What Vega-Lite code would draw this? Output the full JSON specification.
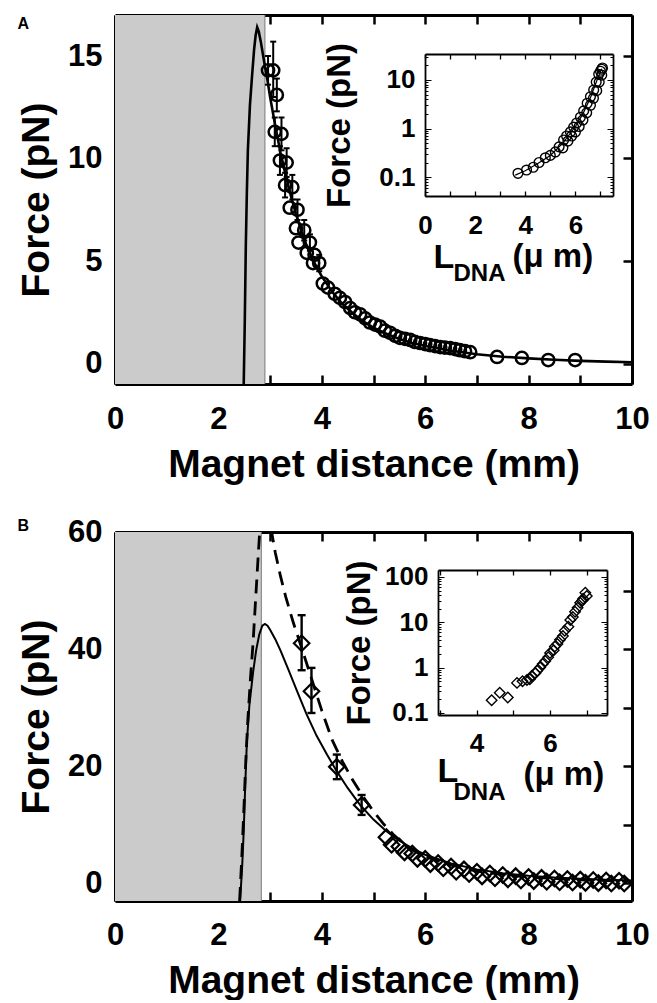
{
"$schema": "https://vega.github.io/schema/vega-lite/v6.json",
"background": "white",
"padding": {"left": 17, "top": 13, "right": 5, "bottom": 0},
"config": {"view": {"stroke": null}, "font": "Liberation Sans",
 "axis": {"domainColor": "black", "tickColor": "black", "labelColor": "black", "titleColor": "black", "labelFont": "Liberation Sans", "titleFont": "Liberation Sans", "labelFontWeight": "bold", "titleFontWeight": "bold", "grid": false, "labelFlush": false, "labelOverlap": false, "zindex": 1}},
"datasets": {
 "curveA": [{"d":2.49,"F":-1},{"d":2.51,"F":2},{"d":2.53,"F":5.7},{"d":2.55,"F":8.3},{"d":2.57,"F":10.4},{"d":2.61,"F":12.6},{"d":2.65,"F":14.0},{"d":2.69,"F":15.3},{"d":2.72,"F":16.0},{"d":2.75,"F":16.4},{"d":2.78,"F":16.2},{"d":2.82,"F":15.7},{"d":2.86,"F":15.1},{"d":2.9,"F":14.5},{"d":2.95,"F":13.8},{"d":3.0,"F":13.0},{"d":3.1,"F":11.6},{"d":3.2,"F":10.3},{"d":3.3,"F":9.2},{"d":3.4,"F":8.2},{"d":3.5,"F":7.3},{"d":3.6,"F":6.5},{"d":3.7,"F":5.8},{"d":3.8,"F":5.2},{"d":3.9,"F":4.7},{"d":4.0,"F":4.25},{"d":4.2,"F":3.5},{"d":4.4,"F":2.9},{"d":4.6,"F":2.45},{"d":4.8,"F":2.05},{"d":5.0,"F":1.75},{"d":5.25,"F":1.45},{"d":5.5,"F":1.2},{"d":5.75,"F":1.0},{"d":6.0,"F":0.85},{"d":6.5,"F":0.62},{"d":7.0,"F":0.45},{"d":7.5,"F":0.33},{"d":8.0,"F":0.25},{"d":8.5,"F":0.18},{"d":9.0,"F":0.13},{"d":9.5,"F":0.09},{"d":10.0,"F":0.06}],
 "ptsA": [{"d":2.96,"F":14.3},{"d":3.06,"F":14.3},{"d":3.13,"F":13.1},{"d":3.09,"F":11.3},{"d":3.22,"F":11.2},{"d":3.19,"F":9.9},{"d":3.32,"F":9.8},{"d":3.29,"F":8.7},{"d":3.43,"F":8.6},{"d":3.38,"F":7.6},{"d":3.53,"F":7.5},{"d":3.5,"F":6.6},{"d":3.66,"F":6.5},{"d":3.55,"F":5.9},{"d":3.77,"F":5.9},{"d":3.71,"F":5.4},{"d":3.86,"F":5.3},{"d":3.83,"F":4.9},{"d":3.95,"F":4.9},{"d":4.02,"F":3.9},{"d":4.12,"F":3.7},{"d":4.25,"F":3.4},{"d":4.35,"F":3.2},{"d":4.45,"F":3.0},{"d":4.55,"F":2.7},{"d":4.64,"F":2.5},{"d":4.74,"F":2.4},{"d":4.84,"F":2.2},{"d":4.93,"F":2.0},{"d":5.03,"F":1.9},{"d":5.13,"F":1.8},{"d":5.22,"F":1.6},{"d":5.32,"F":1.5},{"d":5.42,"F":1.35},{"d":5.51,"F":1.25},{"d":5.61,"F":1.2},{"d":5.71,"F":1.15},{"d":5.8,"F":1.05},{"d":5.9,"F":1.0},{"d":6.0,"F":0.95},{"d":6.09,"F":0.9},{"d":6.19,"F":0.85},{"d":6.29,"F":0.8},{"d":6.38,"F":0.78},{"d":6.48,"F":0.75},{"d":6.58,"F":0.7},{"d":6.67,"F":0.65},{"d":6.77,"F":0.6},{"d":6.87,"F":0.55},{"d":7.39,"F":0.32},{"d":7.87,"F":0.27},{"d":8.38,"F":0.17},{"d":8.9,"F":0.17}],
 "ebA": [{"d":2.96,"lo":13.6,"hi":15.0},{"d":3.06,"lo":13.0,"hi":15.7},{"d":3.13,"lo":12.3,"hi":13.9},{"d":3.09,"lo":10.6,"hi":12.0},{"d":3.22,"lo":10.4,"hi":12.0},{"d":3.19,"lo":9.2,"hi":10.6},{"d":3.32,"lo":9.1,"hi":10.5},{"d":3.29,"lo":8.1,"hi":9.3},{"d":3.43,"lo":8.0,"hi":9.2},{"d":3.53,"lo":7.0,"hi":8.0},{"d":3.66,"lo":6.0,"hi":7.0},{"d":3.77,"lo":5.5,"hi":6.3},{"d":3.95,"lo":4.5,"hi":5.3}],
 "insA": [{"L":3.71,"F":0.12},{"L":4.05,"F":0.14},{"L":4.32,"F":0.16},{"L":4.55,"F":0.2},{"L":4.8,"F":0.25},{"L":5.0,"F":0.28},{"L":5.2,"F":0.33},{"L":5.35,"F":0.42},{"L":5.53,"F":0.58},{"L":5.65,"F":0.7},{"L":5.8,"F":0.85},{"L":5.93,"F":1.07},{"L":6.05,"F":1.3},{"L":6.2,"F":1.7},{"L":6.33,"F":2.3},{"L":6.47,"F":3.3},{"L":6.6,"F":4.5},{"L":6.73,"F":6.2},{"L":6.83,"F":9},{"L":6.93,"F":13},{"L":7.0,"F":15},{"L":7.05,"F":16.5},{"L":7.08,"F":17.5},{"L":5.5,"F":0.4},{"L":5.7,"F":0.55},{"L":5.85,"F":0.7},{"L":6.0,"F":0.85},{"L":6.15,"F":1.1},{"L":6.3,"F":1.5},{"L":6.45,"F":2.1},{"L":6.6,"F":3.0},{"L":6.72,"F":4.2},{"L":6.85,"F":6},{"L":6.95,"F":9},{"L":7.05,"F":12.5}],
 "insAfit": [{"L":3.6,"F":0.11},{"L":4.0,"F":0.135},{"L":4.5,"F":0.19},{"L":5.0,"F":0.28},{"L":5.5,"F":0.5},{"L":6.0,"F":1.1},{"L":6.3,"F":2.0},{"L":6.6,"F":4.3},{"L":6.85,"F":9.5},{"L":7.05,"F":17}],
 "curveBs": [{"d":2.42,"F":-3},{"d":2.46,"F":3},{"d":2.49,"F":9},{"d":2.52,"F":17},{"d":2.55,"F":24},{"d":2.6,"F":30.5},{"d":2.67,"F":36},{"d":2.73,"F":39.8},{"d":2.79,"F":42.5},{"d":2.85,"F":44},{"d":2.9,"F":44.3},{"d":2.95,"F":44},{"d":3.0,"F":43.3},{"d":3.1,"F":41.7},{"d":3.2,"F":39.8},{"d":3.35,"F":36.6},{"d":3.5,"F":33.3},{"d":3.7,"F":29},{"d":3.9,"F":25.2},{"d":4.1,"F":22},{"d":4.3,"F":19},{"d":4.5,"F":16.3},{"d":4.75,"F":13.3},{"d":5.0,"F":10.9},{"d":5.25,"F":8.9},{"d":5.5,"F":7.3},{"d":5.75,"F":6.0},{"d":6.0,"F":4.9},{"d":6.5,"F":3.4},{"d":7.0,"F":2.4},{"d":7.5,"F":1.75},{"d":8.0,"F":1.3},{"d":8.5,"F":1.0},{"d":9.0,"F":0.8},{"d":9.5,"F":0.62},{"d":10.0,"F":0.5}],
 "curveBd": [{"d":2.41,"F":-3},{"d":2.45,"F":4},{"d":2.49,"F":12},{"d":2.53,"F":21},{"d":2.57,"F":28},{"d":2.62,"F":35},{"d":2.67,"F":41},{"d":2.72,"F":48.5},{"d":2.77,"F":56},{"d":2.82,"F":63},{"d":2.87,"F":69},{"d":2.92,"F":70},{"d":2.97,"F":66},{"d":3.03,"F":60},{"d":3.1,"F":56.5},{"d":3.2,"F":52.5},{"d":3.3,"F":49},{"d":3.45,"F":44.5},{"d":3.6,"F":40.5},{"d":3.8,"F":35},{"d":4.0,"F":29.5},{"d":4.2,"F":24.5},{"d":4.4,"F":20.8},{"d":4.6,"F":17.6},{"d":4.8,"F":14.8},{"d":5.0,"F":12.3},{"d":5.2,"F":10.1},{"d":5.4,"F":8.2},{"d":5.6,"F":6.7},{"d":5.8,"F":5.5},{"d":6.0,"F":4.6},{"d":6.5,"F":3.1},{"d":7.0,"F":2.1},{"d":7.5,"F":1.5},{"d":8.0,"F":1.1},{"d":9.0,"F":0.6},{"d":10.0,"F":0.35}],
 "ptsB": [{"d":3.61,"F":41},{"d":3.8,"F":32.8},{"d":4.29,"F":19.9},{"d":4.77,"F":13.4},{"d":5.25,"F":7.9},{"d":5.5,"F":6.3},{"d":5.75,"F":5.1},{"d":6.0,"F":4.2},{"d":6.25,"F":3.5},{"d":6.5,"F":2.9},{"d":6.75,"F":2.4},{"d":7.0,"F":2.0},{"d":7.25,"F":1.7},{"d":7.5,"F":1.45},{"d":7.75,"F":1.25},{"d":8.0,"F":1.1},{"d":8.25,"F":0.95},{"d":8.5,"F":0.85},{"d":8.75,"F":0.75},{"d":9.0,"F":0.65},{"d":9.25,"F":0.58},{"d":9.5,"F":0.5},{"d":9.75,"F":0.45},{"d":5.35,"F":6.6},{"d":5.6,"F":5.3},{"d":5.85,"F":4.2},{"d":6.1,"F":3.3},{"d":6.35,"F":2.6},{"d":6.6,"F":2.0},{"d":6.85,"F":1.6},{"d":7.1,"F":1.2},{"d":7.35,"F":0.9},{"d":7.6,"F":0.7},{"d":7.85,"F":0.5},{"d":8.1,"F":0.4},{"d":8.35,"F":0.3},{"d":8.6,"F":0.2},{"d":8.85,"F":0.15},{"d":9.1,"F":0.1},{"d":9.35,"F":0.05},{"d":9.6,"F":0.0},{"d":9.85,"F":0.0}],
 "ebB": [{"d":3.61,"lo":36.4,"hi":45.8},{"d":3.8,"lo":29.1,"hi":36.8},{"d":4.29,"lo":17.8,"hi":22.0},{"d":4.77,"lo":11.7,"hi":15.1}],
 "insB": [{"L":4.41,"F":0.19},{"L":4.63,"F":0.28},{"L":4.85,"F":0.22},{"L":5.1,"F":0.46},{"L":5.25,"F":0.5},{"L":5.37,"F":0.53},{"L":5.5,"F":0.65},{"L":5.6,"F":0.75},{"L":5.73,"F":1.0},{"L":5.87,"F":1.4},{"L":6.0,"F":2.1},{"L":6.13,"F":2.9},{"L":6.27,"F":4.1},{"L":6.4,"F":6.5},{"L":6.55,"F":11.2},{"L":6.68,"F":17},{"L":6.82,"F":27},{"L":6.9,"F":33},{"L":6.96,"F":45},{"L":7.0,"F":38},{"L":5.45,"F":0.55},{"L":5.65,"F":0.85},{"L":5.8,"F":1.2},{"L":5.95,"F":1.7},{"L":6.1,"F":2.4},{"L":6.2,"F":3.3},{"L":6.35,"F":5},{"L":6.5,"F":8},{"L":6.62,"F":13},{"L":6.75,"F":21},{"L":6.88,"F":30}],
 "shadeA": [{"x0":0,"x1":2.9}],
 "shadeB": [{"x0":0,"x1":2.83}]
},
"spacing": 32,
"vconcat": [
 {
  "width": 517, "height": 369,
  "title": {"text": "A", "anchor": "start", "frame": "bounds", "offset": -18, "baseline": "top", "fontSize": 16, "font": "Liberation Sans", "fontWeight": "bold", "color": "black"},
  "layer": [
   {
    "layer": [
     {"data": {"name": "shadeA"}, "mark": {"type": "rect", "color": "#cbcbcb"},
      "encoding": {
       "x": {"field": "x0", "type": "quantitative", "scale": {"domain": [0,10], "nice": false, "zero": false},
        "axis": {"orient": "bottom", "values": [0,1,2,3,4,5,6,7,8,9,10], "format": "d", "labelExpr": "datum.value % 2 === 0 ? datum.label : ''", "tickSize": -9, "tickWidth": 2.5, "domainWidth": 3, "labelFontSize": 31, "labelPadding": 29, "title": "Magnet distance (mm)", "titleFontSize": 39, "titlePadding": 11}},
       "x2": {"field": "x1"},
       "y": {"datum": -1, "type": "quantitative", "scale": {"domain": [-1,17], "nice": false, "zero": false},
        "axis": {"orient": "left", "values": [0,5,10,15], "format": "d", "tickSize": -9, "tickWidth": 2.5, "domainWidth": 3, "labelFontSize": 31, "labelPadding": 22, "title": "Force (pN)", "titleFontSize": 39, "titlePadding": 11}},
       "y2": {"datum": 17}}},
     {"data": {"name": "shadeA"}, "mark": {"type": "point", "opacity": 0},
      "encoding": {
       "x": {"field": "x0", "type": "quantitative", "scale": {"domain": [0,10], "nice": false, "zero": false},
        "axis": {"orient": "top", "values": [0,1,2,3,4,5,6,7,8,9,10], "labels": false, "tickSize": -9, "tickWidth": 2.5, "domainWidth": 3, "title": null}},
       "y": {"datum": 0, "type": "quantitative", "scale": {"domain": [-1,17], "nice": false, "zero": false},
        "axis": {"orient": "right", "values": [0,5,10,15], "labels": false, "tickSize": -9, "tickWidth": 2.5, "domainWidth": 3, "title": null}}}},
     {"data": {"name": "shadeA"}, "mark": {"type": "rule", "color": "#7a7a7a", "strokeWidth": 1},
      "encoding": {"x": {"field": "x1", "type": "quantitative", "scale": {"domain": [0,10], "nice": false, "zero": false}, "axis": null}}},
     {"data": {"name": "curveA"}, "mark": {"type": "line", "color": "black", "strokeWidth": 2.6, "clip": true},
      "encoding": {
       "x": {"field": "d", "type": "quantitative", "scale": {"domain": [0,10], "nice": false, "zero": false}, "axis": null},
       "y": {"field": "F", "type": "quantitative", "scale": {"domain": [-1,17], "nice": false, "zero": false}, "axis": null}}},
     {"data": {"name": "ebA"}, "mark": {"type": "rule", "color": "black", "strokeWidth": 2},
      "encoding": {
       "x": {"field": "d", "type": "quantitative", "scale": {"domain": [0,10], "nice": false, "zero": false}, "axis": null},
       "y": {"field": "lo", "type": "quantitative", "scale": {"domain": [-1,17], "nice": false, "zero": false}, "axis": null},
       "y2": {"field": "hi"}}},
     {"data": {"name": "ebA"}, "mark": {"type": "tick", "orient": "horizontal", "color": "black", "size": 6, "thickness": 2, "opacity": 1},
      "encoding": {
       "x": {"field": "d", "type": "quantitative", "scale": {"domain": [0,10], "nice": false, "zero": false}, "axis": null},
       "y": {"field": "hi", "type": "quantitative", "scale": {"domain": [-1,17], "nice": false, "zero": false}, "axis": null}}},
     {"data": {"name": "ebA"}, "mark": {"type": "tick", "orient": "horizontal", "color": "black", "size": 6, "thickness": 2, "opacity": 1},
      "encoding": {
       "x": {"field": "d", "type": "quantitative", "scale": {"domain": [0,10], "nice": false, "zero": false}, "axis": null},
       "y": {"field": "lo", "type": "quantitative", "scale": {"domain": [-1,17], "nice": false, "zero": false}, "axis": null}}},
     {"data": {"name": "ptsA"}, "mark": {"type": "point", "shape": "circle", "filled": false, "color": "black", "size": 150, "strokeWidth": 2.5, "opacity": 1},
      "encoding": {
       "x": {"field": "d", "type": "quantitative", "scale": {"domain": [0,10], "nice": false, "zero": false}, "axis": null},
       "y": {"field": "F", "type": "quantitative", "scale": {"domain": [-1,17], "nice": false, "zero": false}, "axis": null}}}
    ],
    "resolve": {"axis": {"x": "independent", "y": "independent"}}
   },
   {
    "layer": [
     {"data": {"name": "insA"}, "mark": {"type": "point", "shape": "circle", "filled": false, "color": "black", "size": 95, "strokeWidth": 1.4, "opacity": 1},
      "encoding": {
       "x": {"field": "L", "type": "quantitative", "scale": {"domain": [0,7.5], "range": [310,498], "nice": false, "zero": false},
        "axis": {"orient": "bottom", "offset": -188, "values": [0,1,2,3,4,5,6,7], "format": "d", "labelExpr": "datum.value % 2 === 0 ? datum.label : ''", "tickSize": -5, "tickWidth": 1.3, "domainWidth": 1.8, "labelFontSize": 26, "labelPadding": 21, "title": "L", "titleFontSize": 34, "titleX": 318, "titleY": 71, "titleAlign": "left", "titleBaseline": "alphabetic", "titleAngle": 0}},
       "y": {"field": "F", "type": "quantitative", "scale": {"type": "log", "domain": [0.041,34], "range": [181,39], "nice": false},
        "axis": {"orient": "left", "offset": -310, "values": [0.05,0.06,0.07,0.08,0.09,0.1,0.2,0.3,0.4,0.5,0.6,0.7,0.8,0.9,1,2,3,4,5,6,7,8,9,10,20,30], "format": "~g", "labelExpr": "datum.value === 0.1 || datum.value === 1 || datum.value === 10 ? datum.label : ''", "tickSize": {"condition": {"test": "datum.value === 0.1 || datum.value === 1 || datum.value === 10", "value": -6}, "value": -3}, "tickWidth": 1, "domainWidth": 1.8, "labelFontSize": 26, "labelPadding": 16, "title": "Force (pN)", "titleFontSize": 33, "titlePadding": 22}}}},
     {"data": {"name": "insAfit"}, "mark": {"type": "line", "color": "black", "strokeWidth": 1.2},
      "encoding": {
       "x": {"field": "L", "type": "quantitative", "scale": {"domain": [0,7.5], "range": [310,498], "nice": false, "zero": false},
        "axis": {"orient": "top", "offset": -39, "values": [0,1,2,3,4,5,6,7], "labels": false, "tickSize": -5, "tickWidth": 1.3, "domainWidth": 1.8, "title": null}},
       "y": {"field": "F", "type": "quantitative", "scale": {"type": "log", "domain": [0.041,34], "range": [181,39], "nice": false},
        "axis": {"orient": "right", "offset": -19, "values": [0.05,0.06,0.07,0.08,0.09,0.1,0.2,0.3,0.4,0.5,0.6,0.7,0.8,0.9,1,2,3,4,5,6,7,8,9,10,20,30], "labels": false, "tickSize": {"condition": {"test": "datum.value === 0.1 || datum.value === 1 || datum.value === 10", "value": -6}, "value": -3}, "tickWidth": 1, "domainWidth": 1.8, "title": null}}}},
     {"data": {"name": "insAfit"}, "mark": {"type": "point", "opacity": 0},
      "encoding": {
       "x": {"field": "L", "type": "quantitative", "scale": {"domain": [0,7.5], "range": [310,498], "nice": false, "zero": false},
        "axis": {"orient": "bottom", "offset": -188, "domain": false, "ticks": false, "labels": false, "title": "DNA", "titleFontSize": 24, "titleX": 338, "titleY": 84, "titleAlign": "left", "titleBaseline": "alphabetic", "titleAngle": 0}},
       "y": {"field": "F", "type": "quantitative", "scale": {"type": "log", "domain": [0.041,34], "range": [181,39], "nice": false}, "axis": null}}},
     {"data": {"name": "insAfit"}, "mark": {"type": "point", "opacity": 0},
      "encoding": {
       "x": {"field": "L", "type": "quantitative", "scale": {"domain": [0,7.5], "range": [310,498], "nice": false, "zero": false},
        "axis": {"orient": "bottom", "offset": -188, "domain": false, "ticks": false, "labels": false, "title": "(μ m)", "titleFontSize": 33, "titleX": 397, "titleY": 70, "titleAlign": "left", "titleBaseline": "alphabetic", "titleAngle": 0}},
       "y": {"field": "F", "type": "quantitative", "scale": {"type": "log", "domain": [0.041,34], "range": [181,39], "nice": false}, "axis": null}}}
    ],
    "resolve": {"axis": {"x": "independent", "y": "independent"}}
   }
  ],
  "resolve": {"scale": {"x": "independent", "y": "independent"}, "axis": {"x": "independent", "y": "independent"}}
 },
 {
  "width": 517, "height": 369,
  "title": {"text": "B", "anchor": "start", "frame": "bounds", "offset": -18, "baseline": "top", "fontSize": 16, "font": "Liberation Sans", "fontWeight": "bold", "color": "black"},
  "layer": [
   {
    "layer": [
     {"data": {"name": "shadeB"}, "mark": {"type": "rect", "color": "#cbcbcb"},
      "encoding": {
       "x": {"field": "x0", "type": "quantitative", "scale": {"domain": [0,10], "nice": false, "zero": false},
        "axis": {"orient": "bottom", "values": [0,1,2,3,4,5,6,7,8,9,10], "format": "d", "labelExpr": "datum.value % 2 === 0 ? datum.label : ''", "tickSize": -9, "tickWidth": 2.5, "domainWidth": 3, "labelFontSize": 31, "labelPadding": 28, "title": "Magnet distance (mm)", "titleFontSize": 39, "titlePadding": 11}},
       "x2": {"field": "x1"},
       "y": {"datum": -3, "type": "quantitative", "scale": {"domain": [-3,60], "nice": false, "zero": false},
        "axis": {"orient": "left", "values": [0,10,20,30,40,50,60], "format": "d", "labelExpr": "datum.value % 20 === 0 ? datum.label : ''", "tickSize": -9, "tickWidth": 2.5, "domainWidth": 3, "labelFontSize": 31, "labelPadding": 22, "title": "Force (pN)", "titleFontSize": 39, "titlePadding": 11}},
       "y2": {"datum": 60}}},
     {"data": {"name": "shadeB"}, "mark": {"type": "point", "opacity": 0},
      "encoding": {
       "x": {"field": "x0", "type": "quantitative", "scale": {"domain": [0,10], "nice": false, "zero": false},
        "axis": {"orient": "top", "values": [0,1,2,3,4,5,6,7,8,9,10], "labels": false, "tickSize": -9, "tickWidth": 2.5, "domainWidth": 3, "title": null}},
       "y": {"datum": 0, "type": "quantitative", "scale": {"domain": [-3,60], "nice": false, "zero": false},
        "axis": {"orient": "right", "values": [0,10,20,30,40,50,60], "labels": false, "tickSize": -9, "tickWidth": 2.5, "domainWidth": 3, "title": null}}}},
     {"data": {"name": "shadeB"}, "mark": {"type": "rule", "color": "#7a7a7a", "strokeWidth": 1},
      "encoding": {"x": {"field": "x1", "type": "quantitative", "scale": {"domain": [0,10], "nice": false, "zero": false}, "axis": null}}},
     {"data": {"name": "curveBd"}, "mark": {"type": "line", "color": "black", "strokeWidth": 2.8, "strokeDash": [14,8], "clip": true},
      "encoding": {
       "x": {"field": "d", "type": "quantitative", "scale": {"domain": [0,10], "nice": false, "zero": false}, "axis": null},
       "y": {"field": "F", "type": "quantitative", "scale": {"domain": [-3,60], "nice": false, "zero": false}, "axis": null}}},
     {"data": {"name": "curveBs"}, "mark": {"type": "line", "color": "black", "strokeWidth": 2, "clip": true},
      "encoding": {
       "x": {"field": "d", "type": "quantitative", "scale": {"domain": [0,10], "nice": false, "zero": false}, "axis": null},
       "y": {"field": "F", "type": "quantitative", "scale": {"domain": [-3,60], "nice": false, "zero": false}, "axis": null}}},
     {"data": {"name": "ebB"}, "mark": {"type": "rule", "color": "black", "strokeWidth": 2.4},
      "encoding": {
       "x": {"field": "d", "type": "quantitative", "scale": {"domain": [0,10], "nice": false, "zero": false}, "axis": null},
       "y": {"field": "lo", "type": "quantitative", "scale": {"domain": [-3,60], "nice": false, "zero": false}, "axis": null},
       "y2": {"field": "hi"}}},
     {"data": {"name": "ebB"}, "mark": {"type": "tick", "orient": "horizontal", "color": "black", "size": 8, "thickness": 2.4, "opacity": 1},
      "encoding": {
       "x": {"field": "d", "type": "quantitative", "scale": {"domain": [0,10], "nice": false, "zero": false}, "axis": null},
       "y": {"field": "hi", "type": "quantitative", "scale": {"domain": [-3,60], "nice": false, "zero": false}, "axis": null}}},
     {"data": {"name": "ebB"}, "mark": {"type": "tick", "orient": "horizontal", "color": "black", "size": 8, "thickness": 2.4, "opacity": 1},
      "encoding": {
       "x": {"field": "d", "type": "quantitative", "scale": {"domain": [0,10], "nice": false, "zero": false}, "axis": null},
       "y": {"field": "lo", "type": "quantitative", "scale": {"domain": [-3,60], "nice": false, "zero": false}, "axis": null}}},
     {"data": {"name": "ptsB"}, "mark": {"type": "point", "shape": "diamond", "filled": false, "color": "black", "size": 240, "strokeWidth": 2.2, "opacity": 1},
      "encoding": {
       "x": {"field": "d", "type": "quantitative", "scale": {"domain": [0,10], "nice": false, "zero": false}, "axis": null},
       "y": {"field": "F", "type": "quantitative", "scale": {"domain": [-3,60], "nice": false, "zero": false}, "axis": null}}}
    ],
    "resolve": {"axis": {"x": "independent", "y": "independent"}}
   },
   {
    "layer": [
     {"data": {"name": "insB"}, "mark": {"type": "point", "shape": "diamond", "filled": false, "color": "black", "size": 110, "strokeWidth": 1.4, "opacity": 1},
      "encoding": {
       "x": {"field": "L", "type": "quantitative", "scale": {"domain": [2.95,7.55], "range": [323,492], "nice": false, "zero": false},
        "axis": {"orient": "bottom", "offset": -186, "values": [3,4,5,6,7], "format": "d", "labelExpr": "datum.value % 2 === 0 ? datum.label : ''", "tickSize": -5, "tickWidth": 1.3, "domainWidth": 1.8, "labelFontSize": 26, "labelPadding": 20, "title": "L", "titleFontSize": 34, "titleX": 322, "titleY": 66, "titleAlign": "left", "titleBaseline": "alphabetic", "titleAngle": 0}},
       "y": {"field": "F", "type": "quantitative", "scale": {"type": "log", "domain": [0.09,142], "range": [183,38], "nice": false},
        "axis": {"orient": "left", "offset": -323, "values": [0.1,0.2,0.3,0.4,0.5,0.6,0.7,0.8,0.9,1,2,3,4,5,6,7,8,9,10,20,30,40,50,60,70,80,90,100], "format": "~g", "labelExpr": "datum.value === 0.1 || datum.value === 1 || datum.value === 10 || datum.value === 100 ? datum.label : ''", "tickSize": {"condition": {"test": "datum.value === 0.1 || datum.value === 1 || datum.value === 10 || datum.value === 100", "value": -6}, "value": -3}, "tickWidth": 1, "domainWidth": 1.8, "labelFontSize": 26, "labelPadding": 16, "title": "Force (pN)", "titleFontSize": 33, "titlePadding": 8}}}},
     {"data": {"name": "insB"}, "mark": {"type": "point", "opacity": 0},
      "encoding": {
       "x": {"field": "L", "type": "quantitative", "scale": {"domain": [2.95,7.55], "range": [323,492], "nice": false, "zero": false},
        "axis": {"orient": "top", "offset": -38, "values": [3,4,5,6,7], "labels": false, "tickSize": -5, "tickWidth": 1.3, "domainWidth": 1.8, "title": null}},
       "y": {"field": "F", "type": "quantitative", "scale": {"type": "log", "domain": [0.09,142], "range": [183,38], "nice": false},
        "axis": {"orient": "right", "offset": -25, "values": [0.1,0.2,0.3,0.4,0.5,0.6,0.7,0.8,0.9,1,2,3,4,5,6,7,8,9,10,20,30,40,50,60,70,80,90,100], "labels": false, "tickSize": {"condition": {"test": "datum.value === 0.1 || datum.value === 1 || datum.value === 10 || datum.value === 100", "value": -6}, "value": -3}, "tickWidth": 1, "domainWidth": 1.8, "title": null}}}},
     {"data": {"name": "insB"}, "mark": {"type": "point", "opacity": 0},
      "encoding": {
       "x": {"field": "L", "type": "quantitative", "scale": {"domain": [2.95,7.55], "range": [323,492], "nice": false, "zero": false},
        "axis": {"orient": "bottom", "offset": -186, "domain": false, "ticks": false, "labels": false, "title": "DNA", "titleFontSize": 24, "titleX": 338, "titleY": 84, "titleAlign": "left", "titleBaseline": "alphabetic", "titleAngle": 0}},
       "y": {"field": "F", "type": "quantitative", "scale": {"type": "log", "domain": [0.09,142], "range": [183,38], "nice": false}, "axis": null}}},
     {"data": {"name": "insB"}, "mark": {"type": "point", "opacity": 0},
      "encoding": {
       "x": {"field": "L", "type": "quantitative", "scale": {"domain": [2.95,7.55], "range": [323,492], "nice": false, "zero": false},
        "axis": {"orient": "bottom", "offset": -186, "domain": false, "ticks": false, "labels": false, "title": "(μ m)", "titleFontSize": 33, "titleX": 408, "titleY": 69, "titleAlign": "left", "titleBaseline": "alphabetic", "titleAngle": 0}},
       "y": {"field": "F", "type": "quantitative", "scale": {"type": "log", "domain": [0.09,142], "range": [183,38], "nice": false}, "axis": null}}}
    ],
    "resolve": {"axis": {"x": "independent", "y": "independent"}}
   }
  ],
  "resolve": {"scale": {"x": "independent", "y": "independent"}, "axis": {"x": "independent", "y": "independent"}}
 }
]
}
